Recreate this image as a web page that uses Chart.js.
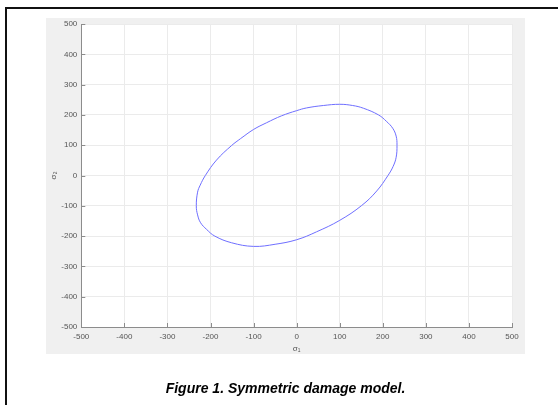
<!DOCTYPE html>
<html>
<head>
<meta charset="utf-8">
<script src="https://cdn.jsdelivr.net/npm/chart.js@4"></script>
<style>
html,body{margin:0;padding:0;background:#fff;}
canvas{display:block;}
</style>
</head>
<body>
<canvas id="c" width="558" height="405"></canvas>
<script>
// Values (closed loop, counter-clockwise)
const sigma1 = [-130, -151, -186, -212, -224, -230, -233, -230, -223, -209, -190, -151, -100, -50, 0, 46, 100, 151, 186, 212, 224, 231, 233, 231, 223, 209, 190, 155, 130, 100, 62, 23, 0, -35, -70, -100, -130];
const sigma2 = [122, 99, 51, 0, -32, -55, -100, -130, -156, -178, -200, -222, -234, -227, -212, -186, -148, -99, -51, 0, 30, 60, 100, 130, 156, 178, 200, 222, 231, 235, 231, 223, 214, 197, 174, 152, 122];
const xTicks = [-500, -400, -300, -200, -100, 0, 100, 200, 300, 400, 500];
const yTicks = [-500, -400, -300, -200, -100, 0, 100, 200, 300, 400, 500];
const xLabel = 'σ₁';
const yLabel = 'σ₂';
const caption = 'Figure 1. Symmetric damage model.';

const points = sigma1.map((v, i) => ({x: v, y: sigma2[i]}));

const tickFont = {family: '"Liberation Sans", Arial, sans-serif', size: 8};
const tickColor = '#555555';

const decor = {
  id: 'decor',
  beforeDraw(chart) {
    const ctx = chart.ctx, a = chart.chartArea;
    ctx.save();
    ctx.fillStyle = '#ffffff';
    ctx.fillRect(0, 0, chart.width, chart.height);
    ctx.fillStyle = '#f0f0f0';
    ctx.fillRect(46, 18, 479, 336);
    ctx.fillStyle = '#ffffff';
    ctx.fillRect(a.left, a.top, a.right - a.left, a.bottom - a.top);
    ctx.fillStyle = '#111111';
    ctx.fillRect(5, 7, 553, 2);
    ctx.fillRect(5, 7, 2, 398);
    ctx.restore();
  },
  afterDraw(chart) {
    const ctx = chart.ctx, a = chart.chartArea;
    const xs = chart.scales.x, ys = chart.scales.y;
    ctx.save();
    ctx.strokeStyle = '#8c8c8c';
    ctx.lineWidth = 1;
    ctx.beginPath();
    xs.ticks.forEach(t => {
      const px = Math.round(xs.getPixelForValue(t.value)) + 0.5;
      ctx.moveTo(px, a.bottom);
      ctx.lineTo(px, a.bottom - 4);
    });
    ys.ticks.forEach(t => {
      const py = Math.round(ys.getPixelForValue(t.value)) + 0.5;
      ctx.moveTo(a.left, py);
      ctx.lineTo(a.left + 4, py);
    });
    ctx.stroke();
    ctx.fillStyle = '#000000';
    ctx.font = 'italic bold 14px "Liberation Sans", Arial, sans-serif';
    ctx.textAlign = 'center';
    ctx.textBaseline = 'middle';
    ctx.fillText(caption, 285.5, 389);
    ctx.restore();
  }
};

new Chart(document.getElementById('c'), {
  type: 'scatter',
  data: {
    datasets: [{
      data: points,
      showLine: true,
      borderColor: '#6f6fff',
      borderWidth: 1,
      pointRadius: 0,
      tension: 0.4,
      fill: false
    }]
  },
  options: {
    responsive: false,
    animation: false,
    layout: {padding: {left: 46, right: 46, top: 24, bottom: 51}},
    plugins: {legend: {display: false}, tooltip: {enabled: false}},
    scales: {
      x: {
        type: 'linear', min: -500, max: 500,
        afterBuildTicks(s) { s.ticks = xTicks.map(v => ({value: v})); },
        afterFit(s) { s.height = 27; },
        ticks: {font: tickFont, color: tickColor, padding: 5, maxRotation: 0},
        grid: {color: '#ebebeb', lineWidth: 1, drawTicks: false},
        border: {display: true, color: '#8c8c8c', width: 1},
        title: {display: true, text: xLabel, font: tickFont, color: tickColor, padding: {top: 0, bottom: 0}}
      },
      y: {
        type: 'linear', min: -500, max: 500,
        afterBuildTicks(s) { s.ticks = yTicks.map(v => ({value: v})); },
        afterFit(s) { s.width = 35.3; },
        ticks: {font: tickFont, color: tickColor, padding: 4},
        grid: {color: '#ebebeb', lineWidth: 1, drawTicks: false},
        border: {display: true, color: '#8c8c8c', width: 1},
        title: {display: true, text: yLabel, font: tickFont, color: tickColor, padding: {top: 3, bottom: 0}}
      }
    }
  },
  plugins: [decor]
});
</script>
</body>
</html>
